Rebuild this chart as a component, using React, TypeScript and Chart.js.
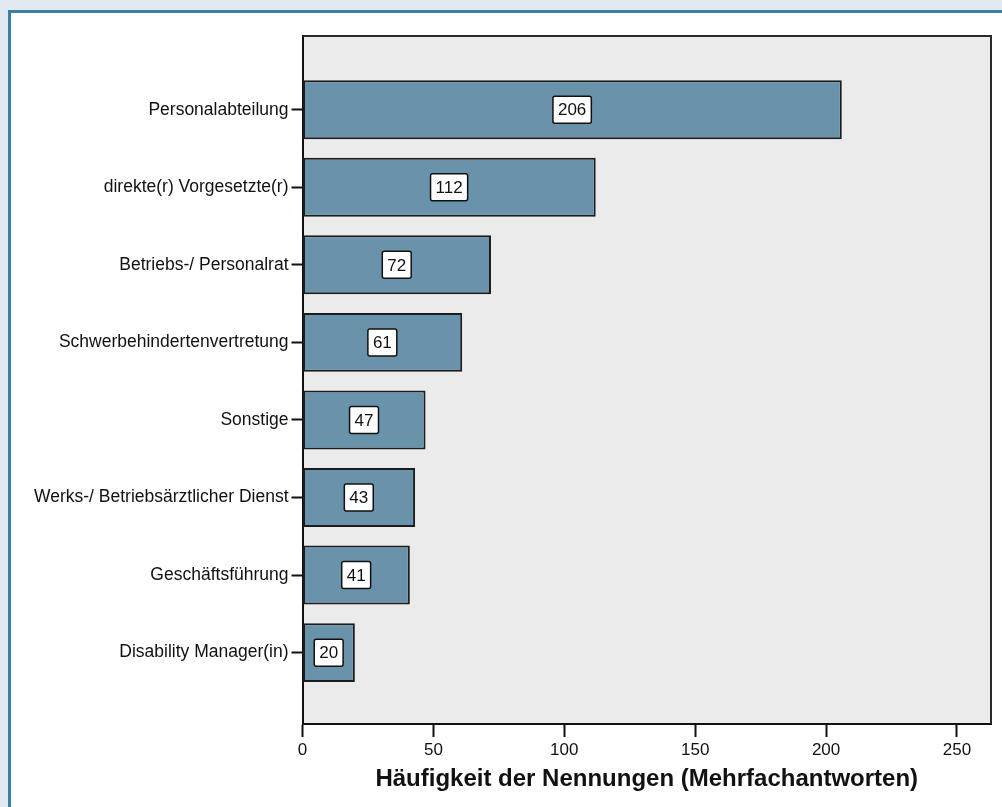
import React, { useEffect, useRef } from "react";
import { Chart, registerables } from "chart.js";

Chart.register(...registerables);

const categories = [
  "Personalabteilung",
  "direkte(r) Vorgesetzte(r)",
  "Betriebs-/ Personalrat",
  "Schwerbehindertenvertretung",
  "Sonstige",
  "Werks-/ Betriebsärztlicher Dienst",
  "Geschäftsführung",
  "Disability Manager(in)",
];
const values = [206, 112, 72, 61, 47, 43, 41, 20];
const xTicks = [0, 50, 100, 150, 200, 250];
const xTitle = "Häufigkeit der Nennungen (Mehrfachantworten)";

const FONT = "'Liberation Sans', Arial, Helvetica, sans-serif";
const INK = "#111111";

const plotFrame = {
  id: "plotFrame",
  beforeDraw(chart: any) {
    const { ctx, chartArea: a } = chart;
    ctx.save();
    ctx.fillStyle = "#ebebec";
    ctx.fillRect(a.left, a.top, a.right - a.left, a.bottom - a.top);
    ctx.restore();
  },
  afterDatasetsDraw(chart: any) {
    const { ctx } = chart;
    const meta = chart.getDatasetMeta(0);
    const xs = chart.scales.x;
    ctx.save();
    ctx.font = `17px ${FONT}`;
    ctx.textAlign = "center";
    ctx.textBaseline = "middle";
    meta.data.forEach((bar: any, i: number) => {
      const v = values[i];
      const cx = xs.getPixelForValue(v / 2);
      const cy = bar.y;
      const txt = String(v);
      const w = ctx.measureText(txt).width + 10;
      const h = 27;
      ctx.beginPath();
      (ctx as any).roundRect(cx - w / 2, cy - h / 2, w, h, 2);
      ctx.fillStyle = "#ffffff";
      ctx.fill();
      ctx.lineWidth = 1.5;
      ctx.strokeStyle = INK;
      ctx.stroke();
      ctx.fillStyle = INK;
      ctx.fillText(txt, cx, cy + 1);
    });
    ctx.restore();
  },
  afterDraw(chart: any) {
    const { ctx, chartArea: a } = chart;
    ctx.save();
    ctx.strokeStyle = "#2a2a2a";
    ctx.lineWidth = 2;
    ctx.beginPath();
    ctx.moveTo(a.left, a.top);
    ctx.lineTo(a.right, a.top);
    ctx.lineTo(a.right, a.bottom);
    ctx.stroke();
    ctx.restore();
  },
};

export default function App() {
  const ref = useRef<HTMLCanvasElement | null>(null);

  useEffect(() => {
    if (!ref.current) return;
    const chart = new Chart(ref.current, {
      type: "bar",
      data: {
        datasets: [
          {
            data: values.map((v, i) => ({ x: v, y: i })) as any,
            backgroundColor: "#6893aa",
            borderColor: "#1c1c1c",
            borderWidth: 2,
            borderSkipped: false,
            barPercentage: 0.76,
            categoryPercentage: 1,
          },
        ],
      },
      options: {
        animation: false,
        responsive: false,
        devicePixelRatio: 1,
        indexAxis: "y",
        layout: { padding: { top: 36, right: 11, left: 0, bottom: 0 } },
        plugins: {
          legend: { display: false },
          tooltip: { enabled: false },
        },
        scales: {
          x: {
            type: "linear",
            position: "bottom",
            min: 0,
            max: 263,
            afterBuildTicks: (s: any) => {
              s.ticks = xTicks.map((v) => ({ value: v }));
            },
            afterFit: (s: any) => {
              s.height = 83;
            },
            grid: {
              drawOnChartArea: false,
              drawTicks: true,
              tickLength: 13,
              tickWidth: 2,
              tickColor: INK,
            },
            border: { display: true, color: INK, width: 2 },
            ticks: {
              color: INK,
              font: { size: 17, family: FONT },
              padding: 3,
              maxRotation: 0,
            },
            title: {
              display: true,
              text: xTitle,
              color: INK,
              font: { size: 24, weight: "bold", family: FONT, lineHeight: 1 },
              padding: { top: 0, bottom: 16 },
            },
          },
          y: {
            type: "linear",
            reverse: true,
            offset: false,
            min: -0.95,
            max: 7.92,
            afterBuildTicks: (s: any) => {
              s.ticks = categories.map((_, i) => ({ value: i }));
            },
            afterFit: (s: any) => {
              s.width = 302.5;
            },
            grid: {
              offset: false,
              drawOnChartArea: false,
              drawTicks: true,
              tickLength: 11,
              tickWidth: 2,
              tickColor: INK,
            },
            border: { display: true, color: INK, width: 2 },
            ticks: {
              autoSkip: false,
              color: INK,
              font: { size: 17.5, family: FONT },
              padding: 3,
              callback: (v: any) => categories[Number(v)] ?? "",
            },
          },
        },
      } as any,
      plugins: [plotFrame],
    });
    return () => chart.destroy();
  }, []);

  return (
    <div
      style={{
        position: "fixed",
        left: 0,
        top: 0,
        width: 1002,
        height: 807,
        background: "#e2eaf0",
        overflow: "hidden",
      }}
    >
      <div
        style={{
          position: "absolute",
          left: 8,
          top: 10,
          right: -10,
          bottom: -10,
          background: "#ffffff",
          borderTop: "3px solid #3d7fa2",
          borderLeft: "3px solid #3d7fa2",
        }}
      />
      <canvas
        ref={ref}
        width={1002}
        height={807}
        style={{ position: "absolute", left: 0, top: 0, width: 1002, height: 807 }}
      />
    </div>
  );
}
